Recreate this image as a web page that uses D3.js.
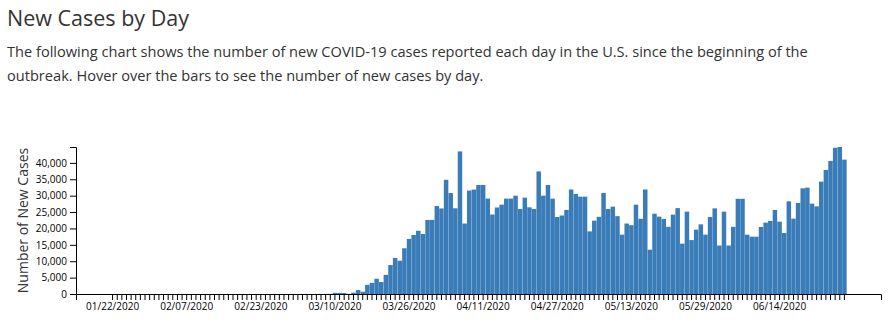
<!DOCTYPE html>
<html>
<head>
<meta charset="utf-8">
<script src="https://cdn.jsdelivr.net/npm/d3@7"></script>
<style>
  html, body { margin: 0; padding: 0; background: #fff; }
  svg { display: block; font-family: "Open Sans", sans-serif; }
</style>
</head>
<body>
<svg id="chart" width="889" height="325"></svg>
<script>
// ---- Data ----
const startDate = "2020-01-22";
const titleText = "New Cases by Day";
const descLines = [
  "The following chart shows the number of new COVID-19 cases reported each day in the U.S. since the beginning of the",
  "outbreak. Hover over the bars to see the number of new cases by day."
];
const yAxisLabel = "Number of New Cases";
const yTicks = [0, 5000, 10000, 15000, 20000, 25000, 30000, 35000, 40000];

// New cases per day, from 01/22/2020 to 06/28/2020
const newCasesJanFeb = [1, 0, 1, 0, 2, 0, 0, 0, 1, 0,          // 01/22 - 01/31
  0, 1, 0, 0, 0, 0, 0, 0, 0, 1, 0, 0, 0, 0, 0, 0, 0, 0, 0, 0,  // 02/01 - 02/20
  0, 2, 0, 1, 0, 0, 1, 3, 2];                                  // 02/21 - 02/29
const newCasesMar = [5, 8, 10, 12, 15, 20, 25, 30, 40, 350,    // 03/01 - 03/10
  350, 300, 50, 400, 1200, 700, 2800, 3400, 4650, 3650,         // 03/11 - 03/20
  5850, 8850, 11000, 10150, 13950, 16800, 18000, 19300, 18300, 22600, 22600]; // 03/21 - 03/31
const newCasesApr = [26850, 26100, 34850, 30800, 26150, 43500, 21500, 31550, 31850, 33270,
  33270, 29100, 24250, 26400, 27260, 29100, 29100, 30000, 25950, 29400,
  26450, 25950, 37400, 30000, 33270, 29100, 23500, 23950, 25640, 31900];
const newCasesMay = [30530, 29700, 29700, 19110, 22380, 23550, 30830, 25950, 26650, 23750,
  18100, 21500, 21000, 27260, 22950, 31900, 13520, 24510, 23600, 22900,
  20500, 24210, 26200, 15360, 25130, 16450, 19630, 21250, 18100, 23500, 26130];
const newCasesJun = [14800, 25130, 14800, 20500, 29050, 29050, 18100, 17490, 17490, 20450,
  21770, 22290, 25640, 22070, 18620, 28270, 22990, 27780, 32240, 32450,
  27570, 26740, 34290, 37850, 40600, 44600, 44850, 41000];

const newCases = [].concat(newCasesJanFeb, newCasesMar, newCasesApr, newCasesMay, newCasesJun);
const parseDate = d3.utcParse("%Y-%m-%d");
const fmtDate = d3.utcFormat("%m/%d/%Y");
const dates = newCases.map((_, i) => d3.utcDay.offset(parseDate(startDate), i));
const data = dates.map((d, i) => ({ date: fmtDate(d), value: newCases[i] }));
const labelEvery = 16;

// ---- Drawing ----
const svg = d3.select("#chart");
const margin = { left: 76, right: 8, top: 147, bottom: 31 };
const W = 889, H = 325;

svg.append("text")
  .attr("x", 7).attr("y", 26)
  .attr("font-size", 21.5).attr("fill", "#333")
  .text(titleText);

svg.append("g").selectAll("text").data(descLines).join("text")
  .attr("x", 7).attr("y", (d, i) => 57 + i * 24)
  .attr("font-size", 14.6).attr("fill", "#333")
  .text(d => d);

const x = d3.scaleBand()
  .domain(data.map(d => d.date))
  .range([margin.left, W - margin.right])
  .paddingInner(0.03)
  .paddingOuter(7.415);

const y = d3.scaleLinear()
  .domain([0, d3.max(newCases)])
  .range([H - margin.bottom, margin.top]);

svg.append("g")
  .selectAll("rect").data(data).join("rect")
  .attr("x", d => x(d.date))
  .attr("y", d => y(d.value))
  .attr("width", x.bandwidth())
  .attr("height", d => y(0) - y(d.value))
  .attr("fill", "#3a7cb8");

const xAxis = d3.axisBottom(x)
  .tickFormat((d, i) => i % labelEvery === 0 ? d : "");
const gx = svg.append("g")
  .attr("transform", `translate(0,${y(0)})`)
  .call(xAxis);
gx.selectAll("text").attr("font-size", 10).attr("font-family", "Open Sans, sans-serif").attr("fill", "#000");

const yAxis = d3.axisLeft(y).tickValues(yTicks).tickFormat(d3.format(","));
const gy = svg.append("g")
  .attr("transform", `translate(${margin.left},0)`)
  .call(yAxis);
gy.selectAll("text").attr("font-size", 10).attr("font-family", "Open Sans, sans-serif").attr("fill", "#000");

svg.append("text")
  .attr("transform", `translate(28,${(y(0) + margin.top) / 2}) rotate(-90)`)
  .attr("text-anchor", "middle")
  .attr("font-size", 14).attr("fill", "#333")
  .text(yAxisLabel);
</script>
</body>
</html>
